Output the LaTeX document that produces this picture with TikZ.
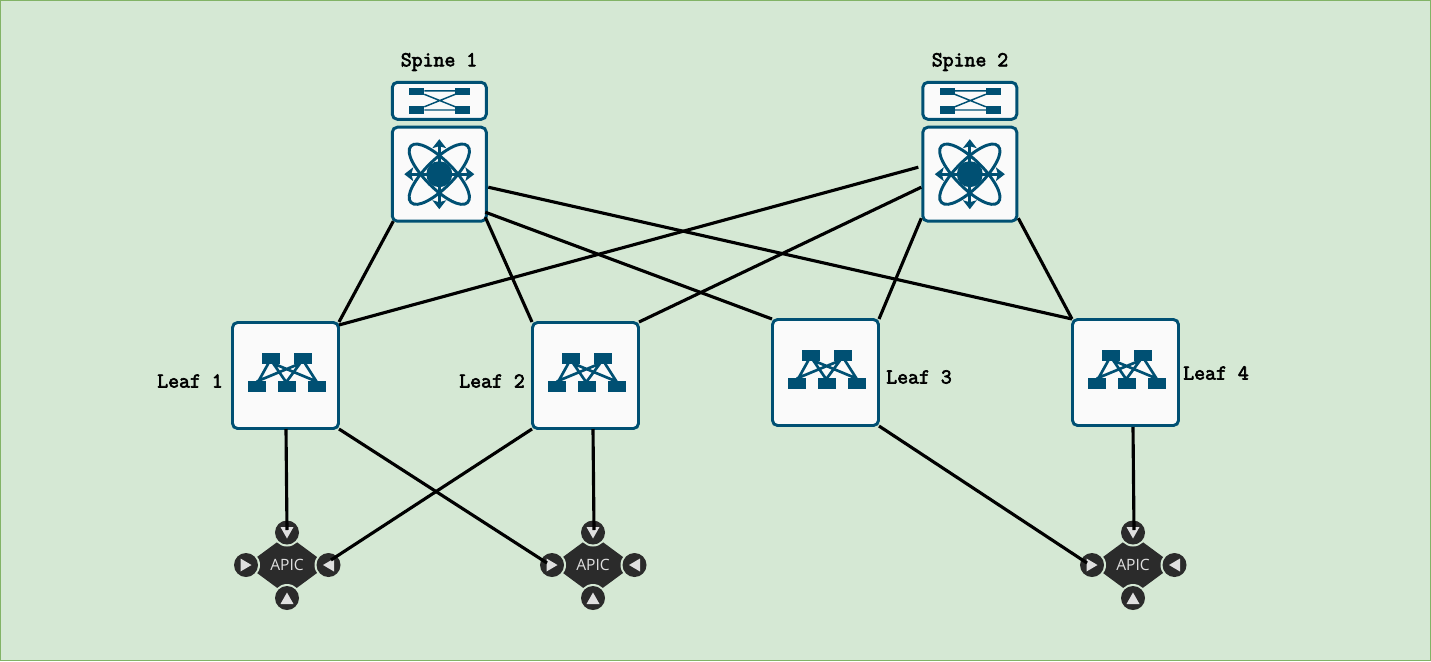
\documentclass[tikz,border=0pt]{standalone}
\usepackage{fontspec}
\newfontfamily\labelfont[FakeBold=3]{Latin Modern Mono}
\newfontfamily\apicfont{Open Sans}
\definecolor{bgfill}{HTML}{D5E8D4}
\definecolor{bgline}{HTML}{82B366}
\definecolor{ciscoblue}{HTML}{005073}
\definecolor{boxfill}{HTML}{FAFAFA}
\definecolor{apicdark}{HTML}{2B2B2B}
\definecolor{apictext}{HTML}{E0E0E0}
\tikzset{
  devbox/.style={draw=ciscoblue,fill=boxfill,line width=2.2pt,rounded corners=3.8pt,inner sep=0pt},
  spinebox/.style={devbox,minimum width=70.5pt,minimum height=70.5pt},
  topbox/.style={devbox,minimum width=70.5pt,minimum height=27.75pt},
  leafbox/.style={devbox,minimum width=79.5pt,minimum height=79.5pt},
  lbl/.style={font=\labelfont\fontsize{15.9pt}{17pt}\selectfont,text=black,inner sep=0pt},
  apiclbl/.style={font=\apicfont\fontsize{11.7pt}{13pt}\selectfont,text=apictext,inner sep=0pt},
  link/.style={draw=black,line width=2.35pt},
  icoline/.style={draw=ciscoblue,line width=2pt},
  icothin/.style={draw=ciscoblue,line width=1.1pt},
  lobe/.style={draw=ciscoblue,line width=2.2pt},
}
\newcommand{\lobepath}{(-40,0) .. controls (-40,-9) and (-20,-14) .. (0,-14) .. controls (20,-14) and (40,-9) .. (40,0) .. controls (40,9) and (20,14) .. (0,14) .. controls (-20,14) and (-40,9) .. (-40,0) -- cycle}
\newcommand{\spineicon}[1]{%
\begin{scope}[shift={(#1)}]
  \draw[lobe,rotate=45] \lobepath;
  \draw[lobe,rotate=-45] \lobepath;
  \draw[draw=ciscoblue,line width=2.5pt] (-28,0) -- (28,0) (0,-28) -- (0,28);
  \fill[ciscoblue] (0,0) circle [radius=13];
  \fill[ciscoblue] (-35,0) -- (-26,-7) -- (-28,0) -- (-26,7) -- cycle;
  \fill[ciscoblue] (35,0) -- (26,-7) -- (28,0) -- (26,7) -- cycle;
  \fill[ciscoblue] (0,-35) -- (-7,-26) -- (0,-28) -- (7,-26) -- cycle;
  \fill[ciscoblue] (0,35) -- (-7,26) -- (0,28) -- (7,26) -- cycle;
\end{scope}}
\newcommand{\topicon}[1]{%
\begin{scope}[shift={(#1)}]
  \draw[icothin] (-15,-10) -- (16,-10) (-15,9.2) -- (16,9.2) (-15,-6.5) -- (16,6) (-15,6) -- (16,-6.5);
  \fill[ciscoblue] (-30,-13) rectangle (-15,-5.7);
  \fill[ciscoblue] (16,-13) rectangle (31,-5.7);
  \fill[ciscoblue] (-30,5.3) rectangle (-15,12.7);
  \fill[ciscoblue] (16,5.3) rectangle (31,12.7);
\end{scope}}
\newcommand{\leaficon}[1]{%
\begin{scope}[shift={(#1)}]
  \draw[icoline] (-17.2,-12) -- (-27.2,6) (-12.2,-12) -- (0.2,6) (-12.2,-12) -- (31,6)
                 (19.5,-12) -- (31,6) (14.5,-12) -- (1.2,6) (14.5,-12) -- (-28.8,6);
  \fill[ciscoblue] (-23.2,-22.2) rectangle (-5.2,-11.5);
  \fill[ciscoblue] (8.5,-22.2) rectangle (26.8,-11.5);
  \fill[ciscoblue] (-37.8,5.8) rectangle (-19.8,16.8);
  \fill[ciscoblue] (-7.8,5.8) rectangle (10.5,16.8);
  \fill[ciscoblue] (22.5,5.8) rectangle (40.5,16.8);
\end{scope}}
\newcommand{\apicicon}[1]{%
\begin{scope}[shift={(#1)}]
  \fill[apicdark] (-9,-23.5) -- (9,-23.5) -- (30,-8) -- (30,8) -- (9,23.5) -- (-9,23.5) -- (-30,8) -- (-30,-8) -- cycle;
  \foreach \dx/\dy in {0/-32.5,0/33,-41/0,41.5/0}{
    \fill[bgfill] (\dx,\dy) circle [radius=14];
    \fill[apicdark] (\dx,\dy) circle [radius=12];
  }
  \fill[apictext] (-6.5,-38) -- (6.5,-38) -- (0,-26.5) -- cycle;
  \fill[apictext] (-6.5,39) -- (6.5,39) -- (0,27.5) -- cycle;
  \fill[apictext] (-46.5,-6.5) -- (-46.5,6.5) -- (-35.5,0) -- cycle;
  \fill[apictext] (47,-6.5) -- (47,6.5) -- (36,0) -- cycle;
\end{scope}}
\begin{document}
\begin{tikzpicture}[x=0.75pt,y=-0.75pt]
\useasboundingbox (0,0) rectangle (1431,661);
\draw[fill=bgfill,draw=bgline,line width=0.75pt] (0.5,0.5) rectangle (1430.5,660.5);
% devices
\node[topbox] (t1) at (439.3,100.8) {};
\node[topbox] (t2) at (969.8,100.8) {};
\node[spinebox] (s1) at (439.3,174.2) {};
\node[spinebox] (s2) at (969.8,174.2) {};
\node[leafbox] (l1) at (285.5,375.5) {};
\node[leafbox] (l2) at (585.5,375.5) {};
\node[leafbox] (l3) at (825.5,372.5) {};
\node[leafbox] (l4) at (1125.5,372.5) {};
\topicon{t1.center}\topicon{t2.center}
\spineicon{s1.center}\spineicon{s2.center}
\leaficon{l1.center}\leaficon{l2.center}\leaficon{l3.center}\leaficon{l4.center}
\apicicon{287,565}\apicicon{593,565}\apicicon{1133,565}
\node[apiclbl] (a1) at (287,565) {APIC};
\node[apiclbl] (a2) at (593,565) {APIC};
\node[apiclbl] (a3) at (1133,565) {APIC};
% labels
\node[lbl] (ts1) at (439,62) {Spine 1};
\node[lbl] (ts2) at (970,62) {Spine 2};
\node[lbl] (tl1) at (190,381) {Leaf 1};
\node[lbl] (tl2) at (492,381) {Leaf 2};
\node[lbl] (tl3) at (919,377) {Leaf 3};
\node[lbl] (tl4) at (1216,373) {Leaf 4};
% links
\draw[link] ([shift={(-46,47)}]s1.center) -- ([shift={(53.5,-53.5)}]l1.center);
\draw[link] ([shift={(46,43)}]s1.center) -- ([shift={(-53.5,-53.5)}]l2.center);
\draw[link] ([shift={(46,38)}]s1.center) -- ([shift={(-53.5,-53.5)}]l3.center);
\draw[link] ([shift={(49,13)}]s1.center) -- ([shift={(-53.5,-53.5)}]l4.center);
\draw[link] ([shift={(-51.5,-7)}]s2.center) -- ([shift={(53.5,-50.5)}]l1.center);
\draw[link] ([shift={(-48.5,13)}]s2.center) -- ([shift={(53.5,-53.5)}]l2.center);
\draw[link] ([shift={(-48.5,44)}]s2.center) -- ([shift={(53.5,-53.5)}]l3.center);
\draw[link] ([shift={(48.5,44)}]s2.center) -- ([shift={(-53.5,-53.5)}]l4.center);
\draw[link] ([shift={(0.5,53.5)}]l1.center) -- ([shift={(0,-35)}]a1.center);
\draw[link] ([shift={(53.5,53.5)}]l1.center) -- ([shift={(-46,-2)}]a2.center);
\draw[link] ([shift={(-53.5,53.5)}]l2.center) -- ([shift={(44,-5)}]a1.center);
\draw[link] ([shift={(7.5,53.5)}]l2.center) -- ([shift={(1,-35)}]a2.center);
\draw[link] ([shift={(53.5,53.5)}]l3.center) -- ([shift={(-46,-2)}]a3.center);
\draw[link] ([shift={(7.5,54.5)}]l4.center) -- ([shift={(1,-35)}]a3.center);
\end{tikzpicture}
\end{document}
